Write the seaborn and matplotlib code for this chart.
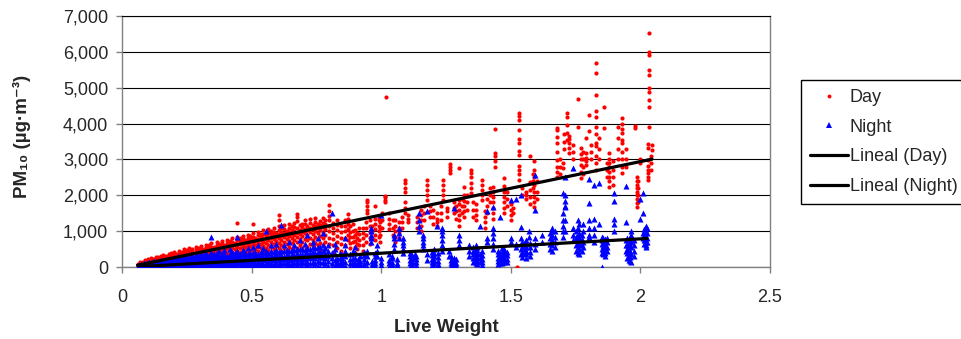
import matplotlib
matplotlib.use("Agg")
import matplotlib.pyplot as plt
import seaborn as sns
import pandas as pd
from matplotlib.lines import Line2D
from matplotlib.ticker import FuncFormatter

# ---------------- data ----------------
day_weight = [
    0.060, 0.070, 0.080, 0.090, 0.100, 0.110, 0.120, 0.130, 0.140, 0.150,
    0.160, 0.170, 0.180, 0.190, 0.200, 0.210, 0.220, 0.230, 0.240, 0.250,
    0.260, 0.270, 0.285, 0.295, 0.305, 0.315, 0.325, 0.335, 0.345, 0.355,
    0.365, 0.375, 0.385, 0.395, 0.405, 0.415, 0.425, 0.435, 0.445, 0.455,
    0.465, 0.475, 0.485, 0.495, 0.505, 0.515, 0.525, 0.535, 0.545, 0.555,
    0.565, 0.575, 0.585, 0.595, 0.605, 0.615, 0.625, 0.635, 0.645, 0.655,
    0.665, 0.675, 0.685, 0.695, 0.705, 0.715, 0.725, 0.735, 0.745, 0.755,
    0.765, 0.775, 0.785, 0.800, 0.815, 0.830, 0.845, 0.870, 0.880, 0.900,
    0.915, 0.930, 0.945, 0.955, 0.975, 0.990, 1.015, 1.020, 1.030, 1.055,
    1.070, 1.090, 1.105, 1.155, 1.175, 1.190, 1.215, 1.240, 1.255, 1.265,
    1.280, 1.300, 1.320, 1.345, 1.365, 1.390, 1.400, 1.430, 1.440, 1.475,
    1.500, 1.525, 1.530, 1.560, 1.575, 1.590, 1.680, 1.700, 1.715, 1.725,
    1.760, 1.770, 1.790, 1.800, 1.830, 1.860, 1.880, 1.930, 1.980, 1.985,
    2.000, 2.030, 2.035, 2.045,
    0.860, 0.890, 0.905, 0.940, 0.965, 0.995, 1.005, 1.045, 1.080, 1.140,
    1.165, 1.200, 1.230, 1.290, 1.310, 1.330, 1.355, 1.410, 1.420, 1.485,
    1.510, 1.545, 1.585, 1.600, 1.690, 1.705, 1.740, 1.780, 1.810, 1.840,
    1.870, 1.895, 1.915, 1.945, 1.990, 2.040,
]
day_pm = [
    [30, 60, 90], [50, 80, 120, 150], [40, 90, 130], [60, 110, 150, 190],
    [70, 120, 170, 210], [50, 100, 150, 200, 240], [90, 140, 180, 230],
    [60, 120, 170, 220, 270], [100, 150, 200, 250, 290], [70, 130, 190, 240, 310],
    [110, 170, 220, 270, 330], [80, 140, 200, 260, 300], [120, 180, 240, 290, 350],
    [90, 160, 220, 280, 330, 380], [130, 190, 250, 310, 360, 420],
    [100, 170, 230, 300, 350], [150, 210, 270, 330, 390, 450],
    [110, 180, 250, 320, 380, 430], [160, 230, 300, 360, 420, 500],
    [120, 200, 270, 340, 410, 470], [180, 250, 320, 390, 450, 520],
    [140, 220, 290, 360, 430, 490], [190, 270, 340, 410, 480, 550],
    [150, 240, 320, 400, 460, 530], [210, 290, 370, 440, 510, 580],
    [170, 260, 340, 420, 490], [230, 310, 390, 470, 540, 620],
    [190, 280, 360, 440, 520, 600], [250, 330, 420, 500, 570, 660],
    [200, 300, 390, 470, 550], [270, 360, 450, 530, 610, 700],
    [220, 320, 410, 500, 580, 650], [290, 380, 470, 560, 640, 730],
    [240, 340, 440, 530, 610], [310, 400, 500, 590, 670, 760],
    [260, 370, 470, 560, 650, 720], [330, 430, 530, 620, 700, 800],
    [280, 390, 500, 600, 680], [350, 460, 560, 650, 740, 830, 1230],
    [300, 420, 530, 630, 720, 800], [380, 490, 590, 690, 780, 870],
    [320, 440, 560, 660, 750], [400, 510, 620, 720, 810, 900],
    [340, 470, 590, 690, 780, 860], [420, 540, 650, 750, 850, 940, 1190],
    [360, 490, 610, 720, 820], [440, 570, 680, 790, 890, 980],
    [380, 520, 640, 750, 850, 930], [460, 590, 710, 820, 920, 1020],
    [400, 540, 670, 780, 880], [480, 620, 740, 850, 960, 1060],
    [420, 560, 700, 810, 910, 1000], [500, 640, 770, 880, 990, 1090],
    [440, 590, 720, 840, 950], [520, 670, 800, 920, 1030, 1150, 1300, 1460],
    [460, 610, 750, 870, 980, 1080], [540, 690, 830, 950, 1060, 1170],
    [480, 640, 780, 900, 1010], [560, 720, 860, 980, 1090, 1200],
    [500, 660, 800, 930, 1040, 1130], [580, 740, 890, 1010, 1120, 1240],
    [520, 690, 840, 960, 1080, 1270, 1400, 1480], [600, 770, 920, 1040, 1160],
    [540, 710, 860, 990, 1110, 1210], [620, 790, 940, 1070, 1190, 1300],
    [560, 740, 890, 1020, 1140], [640, 810, 970, 1100, 1220, 1330],
    [580, 760, 920, 1050, 1170], [660, 840, 1000, 1130, 1250, 1360],
    [600, 780, 940, 1080, 1200], [470, 680, 860, 1020, 1160, 1280],
    [620, 800, 970, 1110, 1230, 1380], [500, 700, 880, 1050, 1190, 1310],
    [640, 820, 1000, 1150, 1300, 1420, 1560, 1730], [420, 600, 780, 950, 1100, 1230],
    [530, 700, 870, 1030, 1180, 1320], [450, 640, 810, 980, 1130],
    [750, 900, 1050, 1200, 1350, 1480], [520, 680, 840, 990, 1150],
    [400, 560, 720, 880, 1040], [600, 760, 920, 1080], [450, 620, 800, 960, 1100],
    [1500, 1600, 1700, 1810, 1870], [650, 820, 980, 1150, 1300],
    [750, 900, 1050, 1200, 1350, 1700], [850, 1000, 1150, 1300, 1400],
    [1800, 1870, 1950, 1980], [4750], [1050, 1200, 1350, 1500],
    [700, 850, 1000, 1150, 1300], [800, 950, 1100, 1250],
    [1500, 1650, 1800, 2080, 2200, 2330, 2420], [1250, 1350, 1450],
    [1000, 1150, 1300, 1450, 1600], [1870, 2000, 2150, 2300, 2420],
    [1400, 1550, 1700], [1150, 1250, 1350, 1500], [1870, 2000, 2150, 2300, 2420],
    [1400, 1550, 1650], [2620, 2700, 2800, 2880], [1500, 1650, 1800],
    [1150, 1300, 1450, 1600, 1750, 1870, 2760], [1400, 1550, 1700, 1850, 2000, 2230],
    [2060, 2200, 2350, 2500, 2620, 2700], [1300, 1450, 1600, 1750],
    [1870, 2000, 2150, 2300, 2420], [1100, 1250, 1400, 1550],
    [1330, 1500, 1650, 1800, 1950, 2100, 2220], [2790, 2950, 3100, 3180, 3850],
    [1500, 1650, 1800, 1950, 2100, 2250, 2480], [1300, 1450, 1600, 1750], [0],
    [2430, 2600, 2700, 2810, 3120, 3230, 3450, 3560, 3820, 4100, 4200, 4290],
    [1900, 2000, 2100], [1770, 1950, 2150, 2370, 3100],
    [1660, 1800, 1950, 2100, 2300, 2500, 2700, 2950],
    [2520, 2650, 2790, 2980, 3200, 3450, 3630, 3820, 3870], [2750, 2900],
    [3540, 3750, 3950, 4170, 4290], [3170, 3320, 3450, 3560, 3640], [4680, 3900],
    [2480, 2650, 2850, 3000, 3150, 3320], [2840, 2950, 3050, 3180, 3600], [4240, 3800],
    [5700, 5400, 4800, 4190, 4340, 3900, 3700, 3450, 3370, 3100, 2900, 2700],
    [4470, 3890], [2230, 2400, 2510, 2650, 2800, 2900, 3000, 3170],
    [4150, 4000, 3850, 3730, 3540, 3450, 3200, 3000, 2800, 2620], [3890, 3940],
    [1670, 1780, 1900, 2000, 2100, 2200, 2300, 2400, 2510], [2900, 3000],
    [2420, 2510, 2620, 2700, 2810, 2980, 3310, 3430],
    [6530, 6000, 5900, 5490, 5350, 4990, 4880, 4650, 4460, 3900], [3260, 3400],
    [600, 800, 1000, 1150, 1300], [700, 850, 1000, 1200], [500, 650, 800, 950],
    [700, 900, 1100, 1250], [800, 1000, 1150], [700, 900, 1100, 1250],
    [1100, 1300, 1500], [900, 1100, 1300], [1100, 1250, 1400], [1100, 1250, 1400],
    [1300, 1500, 1700], [1200, 1400, 1600], [1300, 1500, 1700], [1350, 1550, 1700],
    [1500, 1700, 1900], [1600, 1800, 2000], [1400, 1600, 1800], [1500, 1700, 1900],
    [1800, 2000, 2200], [1700, 1900, 2100], [1500, 1650], [2000, 2200],
    [2200, 2400, 2600], [1900, 2100, 2400], [2600, 2800, 3000], [3300, 3500, 3700],
    [3000, 3200, 3400], [2600, 2800, 3000, 3200], [3000, 3200, 3400],
    [3000, 3300, 3600], [2500, 2700, 2900], [2300, 2500, 2700, 2950],
    [3000, 3300, 3600, 3900], [2800, 3000, 3300], [1800, 2000, 2200, 2400],
    [2700, 2900, 3100],
]

night_weight = [
    0.065, 0.075, 0.085, 0.095, 0.105, 0.115, 0.125, 0.135, 0.145, 0.155,
    0.165, 0.175, 0.185, 0.195, 0.205, 0.215, 0.225, 0.235, 0.245, 0.255,
    0.265, 0.275, 0.285, 0.295, 0.305, 0.315, 0.325, 0.335, 0.345, 0.355,
    0.365, 0.375, 0.385, 0.395, 0.405, 0.415, 0.425, 0.435, 0.445, 0.455,
    0.465, 0.475, 0.485, 0.495, 0.505, 0.515, 0.525, 0.535, 0.545, 0.555,
    0.565, 0.575, 0.585, 0.595, 0.605, 0.615, 0.625, 0.635, 0.645, 0.655,
    0.665, 0.675, 0.685, 0.695, 0.705, 0.715, 0.725, 0.735, 0.745, 0.755,
    0.765, 0.775, 0.785, 0.795, 0.810, 0.820, 0.840, 0.860, 0.880, 0.900,
    0.920, 0.945, 0.960, 0.965, 0.985, 1.000, 1.030, 1.050, 1.070, 1.085,
    1.110, 1.130, 1.145, 1.160, 1.175, 1.205, 1.215, 1.235, 1.260, 1.280,
    1.300, 1.340, 1.365, 1.380, 1.410, 1.430, 1.460, 1.475, 1.500, 1.520,
    1.540, 1.555, 1.570, 1.595, 1.620, 1.660, 1.700, 1.710, 1.740, 1.760,
    1.780, 1.800, 1.820, 1.840, 1.850, 1.870, 1.900, 1.945, 1.955, 1.965,
    2.000, 2.010, 2.020,
    0.830, 0.850, 0.890, 0.910, 0.935, 0.975, 1.040, 1.060, 1.120, 1.135,
    1.195, 1.220, 1.270, 1.290, 1.355, 1.370, 1.390, 1.450, 1.465, 1.485,
    1.545, 1.560, 1.575, 1.650, 1.670, 1.750, 1.765, 1.775, 1.855, 1.865,
    1.950, 1.960, 1.975, 2.015, 2.025,
]
night_pm = [
    [10, 30, 60], [20, 50, 80], [0, 30, 60, 100], [10, 40, 80, 120],
    [0, 30, 60, 100, 140], [20, 50, 90, 130], [0, 40, 70, 110, 160],
    [10, 50, 100, 140], [0, 30, 80, 120, 180], [20, 60, 110, 160, 200],
    [0, 40, 90, 140], [10, 60, 120, 170, 230], [0, 50, 100, 150, 200],
    [20, 70, 130, 190, 250], [0, 40, 90, 150, 210], [10, 60, 120, 180, 260, 320],
    [0, 50, 100, 160, 220], [20, 80, 140, 200, 270], [0, 40, 100, 170, 240, 300],
    [10, 70, 130, 190, 260], [0, 50, 110, 180, 250, 330], [20, 80, 150, 210, 280],
    [0, 60, 120, 190, 270, 350], [10, 70, 140, 220, 300],
    [0, 50, 120, 200, 280, 380], [20, 90, 170, 250, 330],
    [0, 60, 140, 220, 300, 400], [10, 80, 160, 240, 320],
    [0, 70, 150, 230, 310, 420, 840], [20, 100, 180, 260, 350],
    [0, 60, 140, 220, 300, 400], [10, 90, 170, 260, 340, 450],
    [0, 70, 150, 240, 330], [20, 100, 190, 280, 370, 480],
    [0, 60, 140, 230, 320], [10, 90, 180, 270, 360, 500],
    [0, 70, 160, 250, 340, 430], [20, 110, 200, 290, 380],
    [0, 60, 150, 240, 340, 450, 840], [10, 100, 190, 280, 370],
    [0, 80, 170, 260, 360, 480], [20, 110, 200, 300, 400],
    [0, 70, 160, 250, 350, 520], [10, 100, 190, 290, 400],
    [0, 80, 180, 280, 380, 560], [20, 120, 220, 320, 420],
    [0, 70, 170, 270, 370, 600], [10, 110, 210, 310, 420],
    [0, 90, 190, 290, 400, 520], [20, 120, 230, 340, 450, 1000],
    [0, 80, 180, 290, 400], [10, 110, 220, 330, 440, 620],
    [0, 90, 200, 310, 420], [20, 130, 240, 350, 470, 650],
    [0, 80, 190, 300, 420], [10, 120, 230, 340, 460, 1170],
    [0, 100, 210, 320, 440, 600], [20, 130, 240, 360, 480],
    [0, 90, 200, 320, 450, 700], [10, 120, 230, 350, 480],
    [0, 100, 220, 340, 470, 620], [20, 140, 260, 380, 500],
    [0, 110, 230, 360, 490, 750], [10, 130, 250, 370, 500],
    [0, 100, 220, 350, 480, 650], [20, 140, 270, 400, 530, 890],
    [0, 120, 250, 380, 510], [10, 150, 280, 410, 550, 700],
    [0, 110, 240, 380, 520], [20, 160, 300, 430, 570, 800],
    [0, 130, 270, 410, 550], [10, 150, 290, 440, 600, 950],
    [0, 120, 260, 400, 540], [20, 160, 310, 460, 620],
    [0, 100, 250, 400, 1500], [50, 200, 350, 500, 650],
    [0, 120, 250, 380], [30, 150, 300, 450, 600, 800], [0, 100, 220, 350],
    [20, 120, 250, 400, 550], [0, 80, 180, 300], [10, 150, 300, 450],
    [700, 800, 900, 1000, 1100], [0, 80, 180], [300, 450, 600],
    [1450, 50, 150, 250], [0, 100, 200, 350], [500, 650, 800, 900],
    [800, 950, 1100], [400, 500, 600, 700, 800], [0, 100, 200, 300, 400],
    [250, 350], [1000, 1150, 1300, 1500], [500, 600, 700, 800, 900],
    [1550, 200, 350], [0, 100, 200, 300, 400, 500], [1150],
    [450, 600, 750, 900, 1000, 1100], [300, 450], [0, 80, 160, 250, 1640],
    [600, 750, 900], [600, 450, 300], [100, 200, 300, 400, 500, 600],
    [1150, 150, 250, 350], [1570, 800, 700], [500, 650, 800, 950, 1100, 1670],
    [1390, 100, 200, 300, 400], [150, 250, 350, 450, 500], [1870, 700, 800],
    [1890, 550, 650], [1110, 350, 500, 650, 800, 2010], [400, 500, 600, 700],
    [850, 1000], [2560, 1600, 500, 650, 800], [900, 700],
    [450, 600, 750, 900, 1000, 1100], [2060, 840, 1000, 1150, 1300, 1500],
    [2500, 1700, 1850, 2000, 1000, 1300, 1670], [2760, 750, 900, 1100],
    [400, 550, 700, 850, 900, 1100, 1300], [560, 700, 1000, 1200],
    [2450, 1780, 1310, 1100, 900, 840], [2300, 1340, 1100, 900, 700],
    [2340, 1200], [0, 390, 500, 650, 750, 840], [450, 550, 700, 800],
    [2060, 1850, 1340, 1200, 1000], [2260, 1250, 750, 600, 450],
    [200, 300, 400, 500, 650], [150, 350, 550, 700, 900, 1000],
    [1900, 1340], [2060, 1500, 950, 800], [600, 700, 850, 1000, 1150, 560],
    [30, 100, 180, 260], [10, 90, 170, 250, 330], [40, 140, 260, 380, 460],
    [10, 60, 150, 220], [30, 120, 210, 330, 420], [20, 100, 200, 300, 380],
    [20, 80, 150, 260, 300], [50, 120, 220], [30, 120, 180, 260, 330],
    [60, 150, 230, 300], [50, 130, 230, 330, 420], [20, 90, 170, 280, 380],
    [30, 110, 190, 300], [20, 120, 220], [150, 250, 350, 450, 550],
    [80, 180, 280, 380, 480, 560], [50, 130, 230, 330, 450],
    [80, 160, 260, 350, 450], [120, 220, 320, 420, 520], [130, 230, 330, 430],
    [280, 420, 560, 700], [250, 350, 450, 550, 650, 750], [300, 430, 560, 680],
    [500, 650, 800, 950], [550, 700, 850, 1000], [450, 600, 750, 850, 1000],
    [350, 500, 650, 800, 950, 1200], [450, 620, 780, 900],
    [350, 450, 580, 700, 800], [300, 400, 520, 650, 780],
    [250, 380, 500, 620, 800], [180, 280, 420, 600, 750, 850],
    [300, 450, 600, 750], [650, 750, 900, 1050], [700, 800, 950, 1100],
]

# Linear trend lines (slope, intercept)
day_trend = (1490.0, -40.0)
night_trend = (400.0, -15.0)

x_ticks = [0, 0.5, 1, 1.5, 2, 2.5]
x_tick_labels = ["0", "0.5", "1", "1.5", "2", "2.5"]
y_ticks = [0, 1000, 2000, 3000, 4000, 5000, 6000, 7000]

# ---------------- build tables ----------------
day_df = pd.DataFrame(
    [(w, v) for w, vals in zip(day_weight, day_pm) for v in vals],
    columns=["weight", "pm"])
night_df = pd.DataFrame(
    [(w, v) for w, vals in zip(night_weight, night_pm) for v in vals],
    columns=["weight", "pm"])

def trend_frame(df, coef):
    xs = [df["weight"].min(), df["weight"].max()]
    return pd.DataFrame({"weight": xs, "pm": [coef[0] * x + coef[1] for x in xs]})

day_line = trend_frame(day_df, day_trend)
night_line = trend_frame(night_df, night_trend)

# ---------------- style ----------------
sns.set_style("white")
plt.rcParams["font.family"] = ["Liberation Sans", "DejaVu Sans"]

fig = plt.figure(figsize=(9.62, 3.39), dpi=100)
ax = fig.add_axes([122 / 962, 1 - 267 / 339, (770 - 122) / 962, (267 - 16) / 339])

ax.set_axisbelow(True)
ax.yaxis.grid(True, color="black", linewidth=0.8)
ax.xaxis.grid(False)

sns.scatterplot(data=day_df, x="weight", y="pm", ax=ax, color="#ff0000",
                marker="o", s=9, linewidth=0, zorder=3)
sns.scatterplot(data=night_df, x="weight", y="pm", ax=ax, color="#0000ff",
                marker="^", s=19, linewidth=0, zorder=4)
sns.lineplot(data=day_line, x="weight", y="pm", ax=ax, color="black",
             linewidth=2.3, zorder=5)
sns.lineplot(data=night_line, x="weight", y="pm", ax=ax, color="black",
             linewidth=2.3, zorder=5)

ax.set_xlim(0, 2.5)
ax.set_ylim(0, 7000)
ax.set_xticks(x_ticks)
ax.set_xticklabels(x_tick_labels)
ax.set_yticks(y_ticks)
ax.yaxis.set_major_formatter(FuncFormatter(lambda v, p: f"{int(v):,}"))
ax.set_xlabel("")
ax.set_ylabel("")

for side in ["left", "bottom", "right"]:
    ax.spines[side].set_visible(True)
    ax.spines[side].set_color("#808080")
    ax.spines[side].set_linewidth(1.0)
ax.spines["top"].set_visible(True)
ax.spines["top"].set_color("#000000")
ax.spines["top"].set_linewidth(0.8)

ax.tick_params(axis="x", which="major", direction="out", length=4, width=1,
               color="#808080", labelsize=13, pad=12, bottom=True)
ax.tick_params(axis="y", which="major", direction="out", length=4, width=1,
               color="#808080", labelsize=13, pad=6, left=True)

fig.text(446 / 962, 1 - 327 / 339, "Live Weight", ha="center", va="center",
         fontsize=13.5, fontweight="bold")
fig.text(22 / 962, 1 - 136 / 339, "PM₁₀ (µg·m⁻³)", ha="center", va="center",
         rotation=90, fontsize=13.5, fontweight="bold")

handles = [
    Line2D([], [], linestyle="none", marker="o", markersize=2.8,
           markerfacecolor="#ff0000", markeredgewidth=0),
    Line2D([], [], linestyle="none", marker="^", markersize=4.2,
           markerfacecolor="#0000ff", markeredgewidth=0),
    Line2D([], [], color="black", linewidth=2.3),
    Line2D([], [], color="black", linewidth=2.3),
]
labels = ["Day", "Night", "Lineal (Day)", "Lineal (Night)"]
leg = fig.legend(handles, labels, loc="upper left",
                 bbox_to_anchor=(801 / 962, 1 - 80 / 339),
                 bbox_transform=fig.transFigure, fontsize=13,
                 frameon=True, fancybox=False, edgecolor="black",
                 framealpha=1, borderpad=0.5, labelspacing=0.7,
                 handlelength=2.1, handletextpad=0.1, borderaxespad=0)
leg.get_frame().set_linewidth(1.0)

fig.savefig("out.png", dpi=100)
